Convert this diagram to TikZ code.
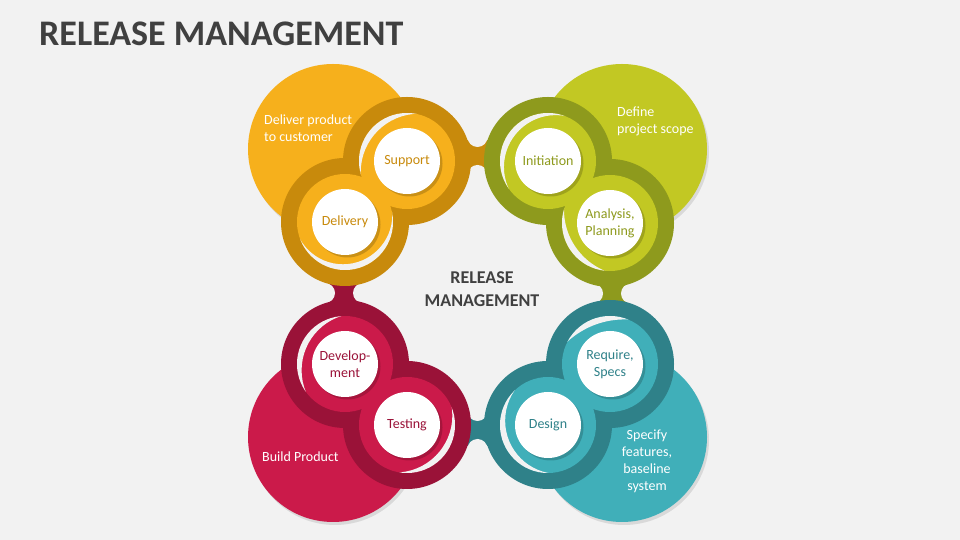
\documentclass[tikz,border=0pt]{standalone}
\usepackage{fontspec}
\setmainfont{Carlito}
\usetikzlibrary{calc}
\definecolor{bg}{HTML}{F2F2F2}
\definecolor{goldL}{HTML}{F6B01C}
\definecolor{goldD}{HTML}{C88A0C}
\definecolor{oliveL}{HTML}{C2C823}
\definecolor{oliveD}{HTML}{8E9A1D}
\definecolor{redL}{HTML}{CB1A4A}
\definecolor{redD}{HTML}{9A1238}
\definecolor{tealL}{HTML}{40AFB9}
\definecolor{tealD}{HTML}{2F8189}
\definecolor{titleC}{HTML}{404040}
% crescent gap: #1 centre, #2 gap direction, #3 half span
\newcommand\gapcres[3]{%
  \pgfmathsetmacro\gw{6}%
  \pgfmathsetmacro\ge{(48*48-(48-\gw)*(48-\gw))/(96*(1-cos(#3))-2*\gw)}%
  \pgfmathsetmacro\gR{48-\gw+\ge}%
  \pgfmathsetmacro\ga{#2+180}%
  \begin{scope}
    \clip (#1) circle (48pt);
    \fill[bg, even odd rule] (#1) circle (54pt) ($(#1)+(\ga:\ge pt)$) circle (\gR pt);
  \end{scope}%
}
\begin{document}
\begin{tikzpicture}[x=1pt,y=1pt,
  wcirc/.style={circle, fill=white, minimum size=66pt, inner sep=0pt, align=center,
    font=\fontsize{14}{17}\selectfont},
  bigtxt/.style={text=white, font=\fontsize{14}{17}\selectfont, inner sep=0pt},
  shad/.style={fill=black, opacity=0.18},
  bshad/.style={fill=black, opacity=0.10},
  carve/.style={fill=bg},
]
\fill[bg] (0,0) rectangle (960,540);
\useasboundingbox (0,0) rectangle (960,540);

% centres
\coordinate (S) at (407,379);
\coordinate (D) at (345,318);
\coordinate (I) at (548,379);
\coordinate (A) at (610,317);
\coordinate (V) at (345,176);
\coordinate (T) at (407,115);
\coordinate (R) at (610,176);
\coordinate (G) at (548,115);
\coordinate (BG) at (333,391);
\coordinate (BO) at (622,391);
\coordinate (BR) at (333,103);
\coordinate (BT) at (622,103);

% links
\fill[goldD] (462,368) rectangle (493,400);
\fill[carve] (477.5,403) circle (10pt) (477.5,365) circle (10pt);
\fill[redD] (328,231) rectangle (360,263);
\fill[carve] (325,247) circle (10pt) (363,247) circle (10pt);
\fill[oliveD] (596,231) rectangle (628,263);
\fill[carve] (593,246.5) circle (10pt) (631,246.5) circle (10pt);
\fill[tealD] (462,94) rectangle (493,126);
\fill[carve] (477.5,129) circle (10pt) (477.5,91) circle (10pt);

% big circles
\fill[bshad] ($(BG)+(2,-3)$) circle (85pt);
\fill[goldL] (BG) circle (85pt);
\fill[bshad] ($(BO)+(2,-3)$) circle (85pt);
\fill[oliveL] (BO) circle (85pt);
\fill[bshad] ($(BR)+(2,-3)$) circle (85pt);
\fill[redL] (BR) circle (85pt);
\fill[bshad] ($(BT)+(2,-3)$) circle (85pt);
\fill[tealL] (BT) circle (85pt);

% gold pair
\fill[goldD] (S) circle (64pt) (D) circle (64pt);
\fill[goldL] (S) circle (48pt) (D) circle (48pt);
\gapcres{S}{137.5}{58}
\gapcres{D}{286}{84}
% olive pair
\fill[oliveD] (I) circle (64pt) (A) circle (64pt);
\fill[oliveL] (I) circle (48pt) (A) circle (48pt);
\gapcres{I}{142.5}{72}
\gapcres{A}{213.5}{50}
% red pair
\fill[redD] (V) circle (64pt) (T) circle (64pt);
\fill[redL] (V) circle (48pt) (T) circle (48pt);
\gapcres{V}{155}{60}
\gapcres{T}{321}{60}
% teal pair
\fill[tealD] (R) circle (64pt) (G) circle (64pt);
\fill[tealL] (R) circle (48pt) (G) circle (48pt);
\gapcres{R}{110}{42}
\gapcres{G}{202.5}{68}

% white circle shadows
\foreach \c in {S,D,I,A,V,T,R,G}{
  \fill[shad] ($(\c)+(2.5,-2.5)$) circle (33pt);
}
% white circles
\node[wcirc, text=goldD] (support) at (S) {Support};
\node[wcirc, text=goldD] (delivery) at (D) {Delivery};
\node[wcirc, text=oliveD] (initiation) at (I) {Initiation};
\node[wcirc, text=oliveD] (analysis) at (A) {Analysis,\\Planning};
\node[wcirc, text=redD] (development) at (V) {Develop-\\ment};
\node[wcirc, text=redD] (testing) at (T) {Testing};
\node[wcirc, text=tealD] (require) at (R) {Require,\\Specs};
\node[wcirc, text=tealD] (design) at (G) {Design};

% big circle texts
\node[bigtxt, anchor=west, align=left] (tgold) at (264,412) {Deliver product\\to customer};
\node[bigtxt, anchor=west, align=left] (tolive) at (617,419) {Define\\project scope};
\node[bigtxt, anchor=west, align=left] (tred) at (262,83) {Build Product};
\node[bigtxt, align=center] (tteal) at (647,78.5) {Specify\\features,\\baseline\\system};

% titles
\node[anchor=base west, inner sep=0pt, text=titleC, font=\fontsize{36}{40}\selectfont\bfseries] (title) at (39,494) {RELEASE MANAGEMENT};
\node[inner sep=0pt, align=center, text=titleC, font=\fontsize{18}{23}\selectfont\bfseries] (center) at (482,251) {RELEASE\\MANAGEMENT};
\end{tikzpicture}
\end{document}
